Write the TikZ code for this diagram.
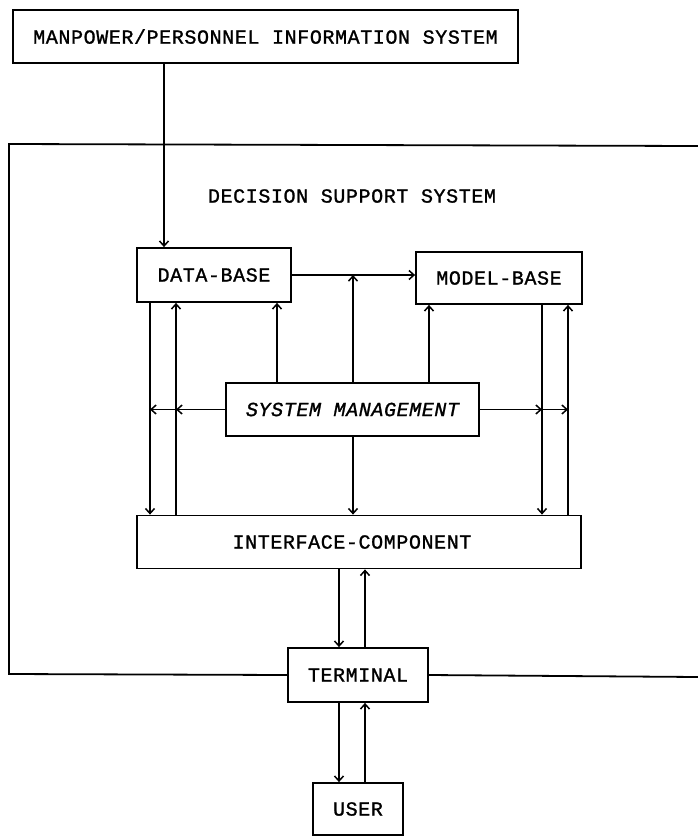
\documentclass[tikz,border=0pt]{standalone}
\usepackage{fontspec}
\usetikzlibrary{arrows.meta}
\newfontfamily\typew[LetterSpace=3,FakeBold=1.2]{Liberation Mono}
\begin{document}
\begin{tikzpicture}[x=1pt,y=-1pt,
  line width=1.8pt,
  font=\typew\fontsize{20}{23}\selectfont,
  >={Straight Barb[length=5pt,width=9pt,line width=1.5pt]},
  blk/.style={draw,rectangle,inner sep=0pt,line join=miter},
  flow/.style={->}]
\useasboundingbox (0,0) rectangle (698,836);

% boxes
\node[blk,minimum width=505pt,minimum height=53pt] (mpis) at (265.5,36.5)
  {MANPOWER/PERSONNEL INFORMATION SYSTEM};
\node (dsslbl) at (352,196) {DECISION SUPPORT SYSTEM};
\node[blk,minimum width=154pt,minimum height=54pt] (db) at (214,275) {DATA-BASE};
\node[blk,minimum width=166pt,minimum height=52pt] (mb) at (499,278) {MODEL-BASE};
\node[blk,minimum width=253pt,minimum height=53pt] (sm) at (352.5,409.5)
  {\itshape SYSTEM MANAGEMENT};
\node[blk,minimum width=444pt,minimum height=53pt] (ifc) at (359,542)
  {INTERFACE-COMPONENT\hspace*{14pt}};
\node[blk,minimum width=140pt,minimum height=54pt] (term) at (358,675) {TERMINAL};
\node[blk,minimum width=90pt,minimum height=52pt] (user) at (358,809) {USER};

% column positions of the vertical connectors
\coordinate (c150) at (150,0);
\coordinate (c164) at (164,0);
\coordinate (c176) at (176,0);
\coordinate (c277) at (277,0);
\coordinate (c339) at (339,0);
\coordinate (c353) at (353,0);
\coordinate (c365) at (365,0);
\coordinate (c429) at (429,0);
\coordinate (c542) at (542,0);
\coordinate (c568) at (568,0);

% decision support system frame (open to the right)
\coordinate (frtr) at (698,146);
\coordinate (frtl) at (9,144);
\coordinate (frbl) at (9,674);
\coordinate (frbr) at (698,677);
\draw[line join=miter] (frtr) -- (frtl) -- (frbl) -- (term.west);
\draw (term.east) -- (frbr);

% information system feeds the data-base
\draw[flow] (mpis.south -| c164) -- (db.north -| c164);

% data-base to model-base
\draw[flow] (db.east) -- (db.east -| mb.west);
\coordinate (dbmb) at (db.east -| c353);

% system management upwards
\draw[flow] (sm.north -| c277) -- (db.south -| c277);
\draw[flow] (sm.north -| c353) -- (dbmb);
\draw[flow] (sm.north -| c429) -- (mb.south -| c429);

% system management sideways
\draw[flow] (sm.west) -- (sm.west -| c176);
\draw[flow] (sm.west -| c176) -- (sm.west -| c150);
\draw[flow] (sm.east) -- (sm.east -| c542);
\draw[flow] (sm.east -| c542) -- (sm.east -| c568);

% system management downwards
\draw[flow] (sm.south -| c353) -- (ifc.north -| c353);

% data-base and interface
\draw[flow] (db.south -| c150) -- (ifc.north -| c150);
\draw[flow] (ifc.north -| c176) -- (db.south -| c176);

% model-base and interface
\draw[flow] (mb.south -| c542) -- (ifc.north -| c542);
\draw[flow] (ifc.north -| c568) -- (mb.south -| c568);

% interface and terminal
\draw[flow] (ifc.south -| c339) -- (term.north -| c339);
\draw[flow] (term.north -| c365) -- (ifc.south -| c365);

% terminal and user
\draw[flow] (term.south -| c339) -- (user.north -| c339);
\draw[flow] (user.north -| c365) -- (term.south -| c365);
\end{tikzpicture}
\end{document}
